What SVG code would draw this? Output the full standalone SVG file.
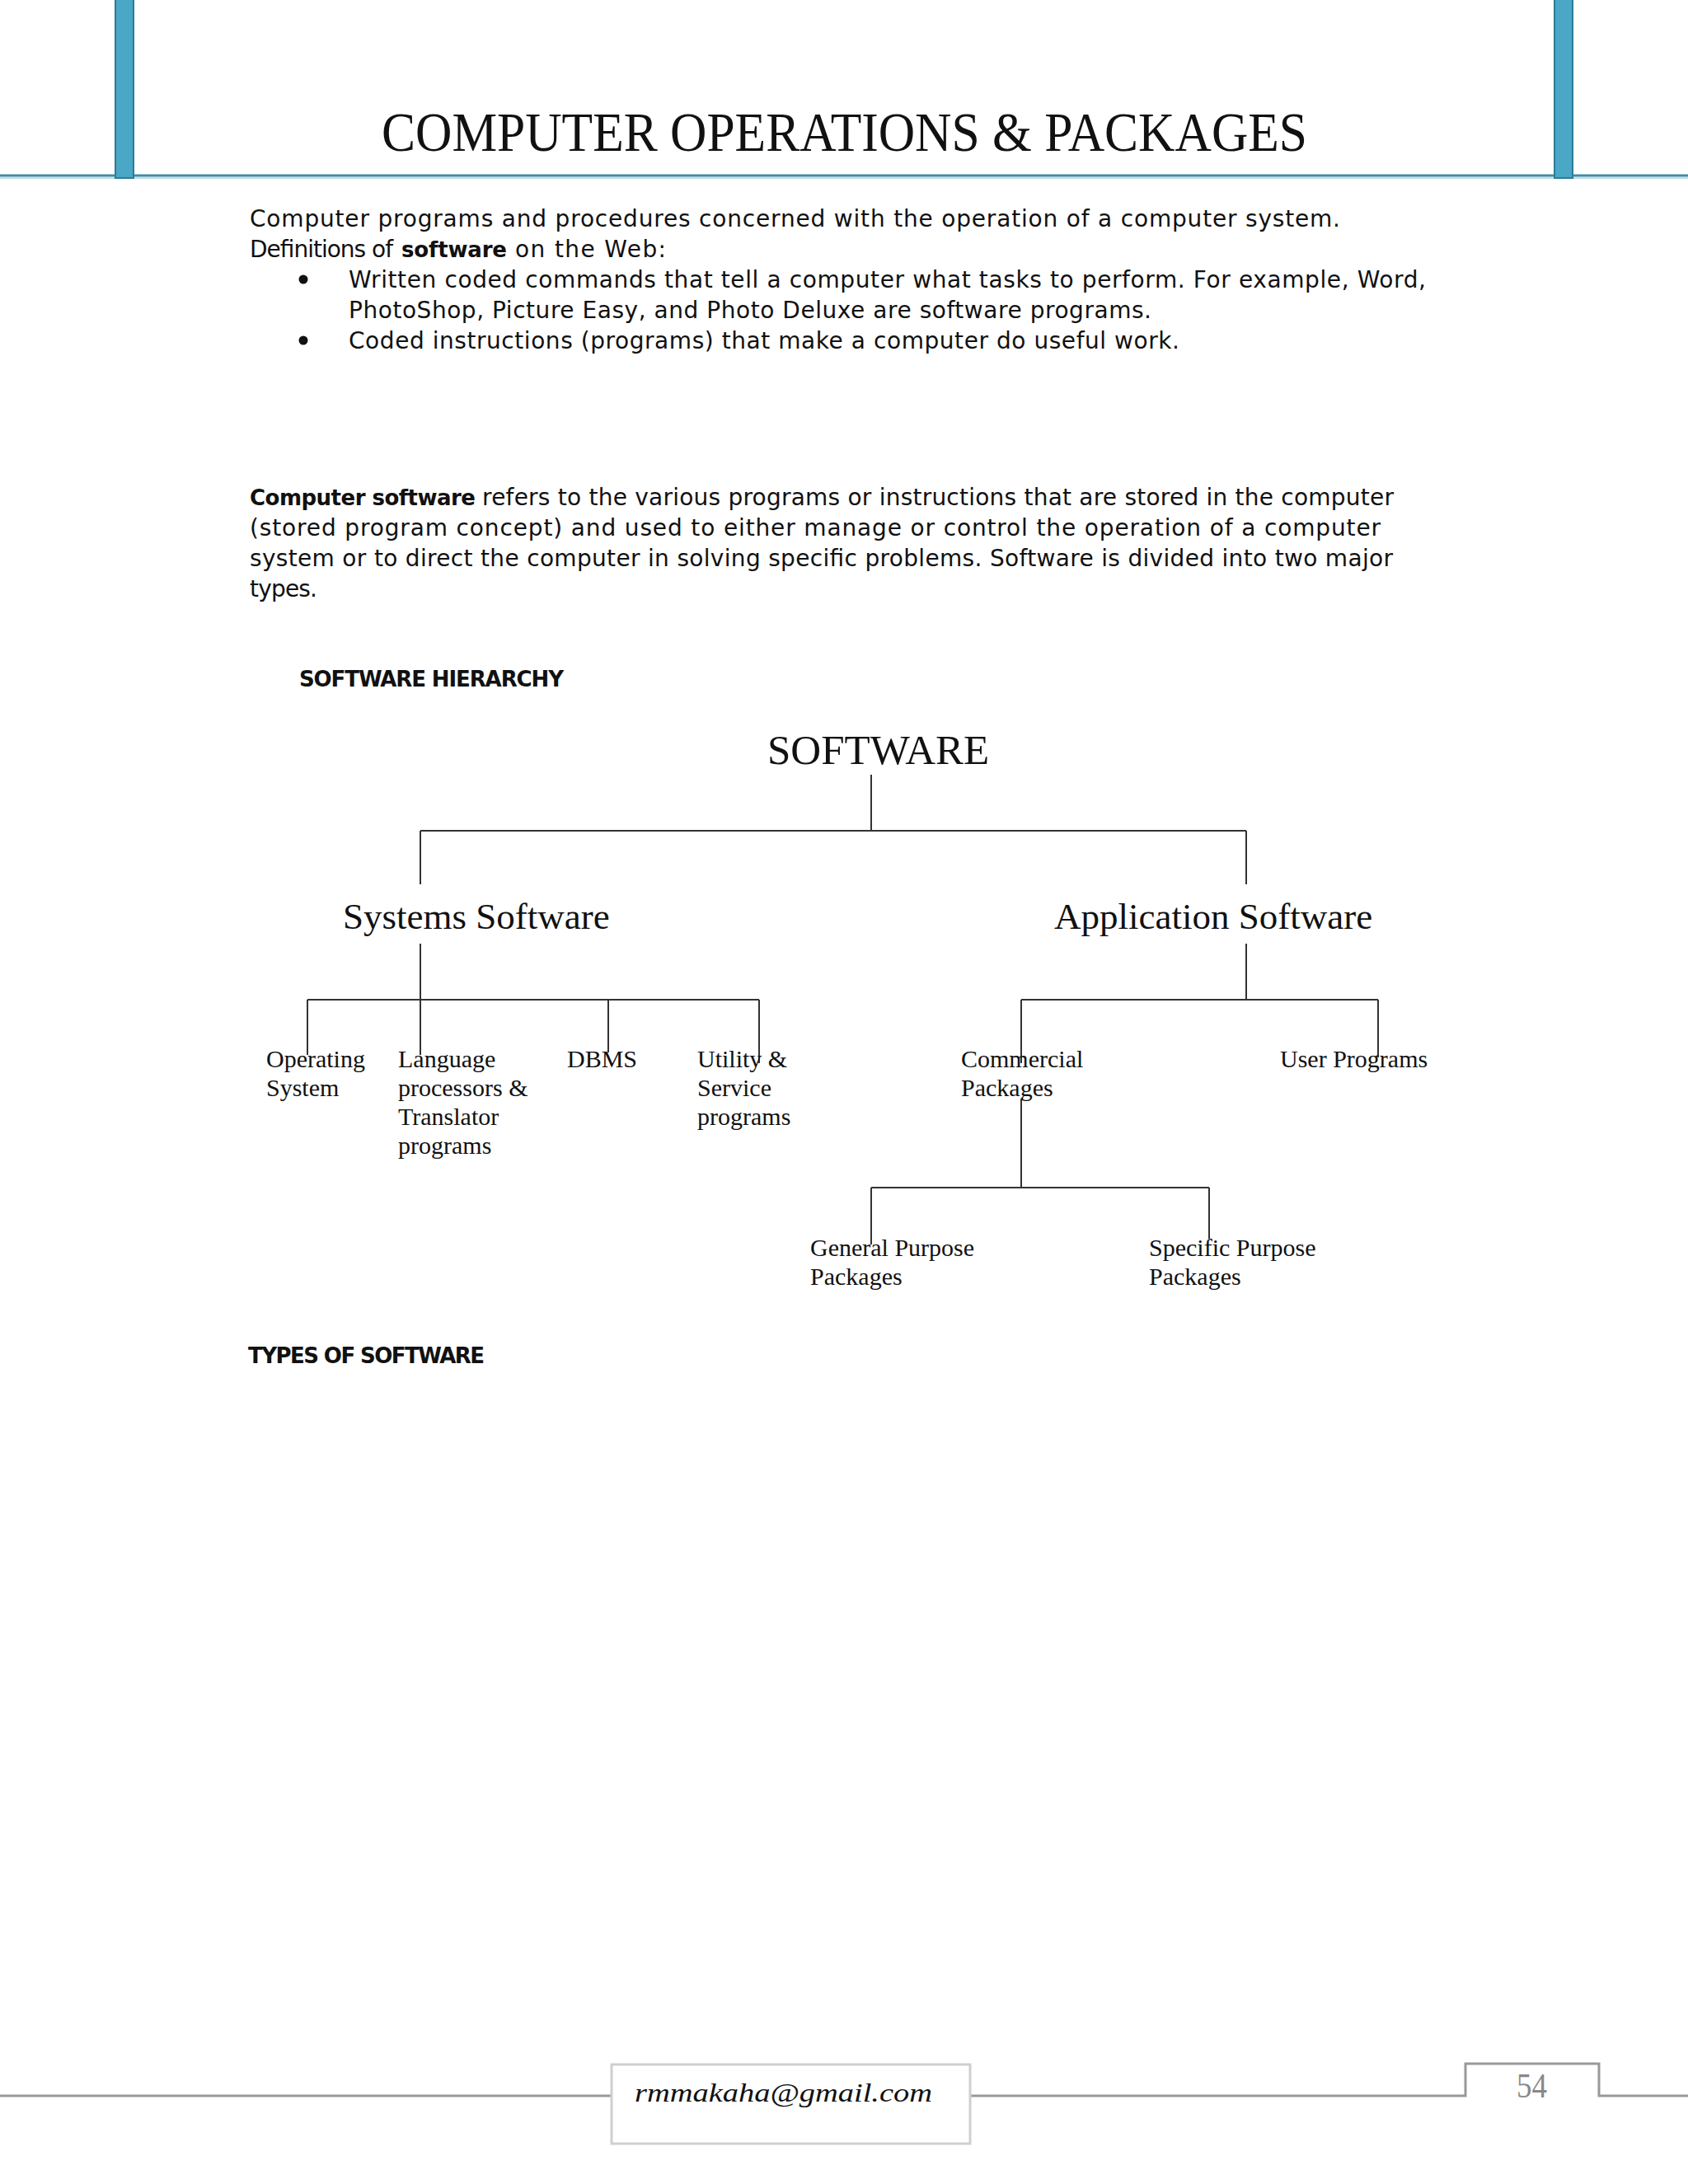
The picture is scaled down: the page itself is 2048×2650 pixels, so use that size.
<svg xmlns="http://www.w3.org/2000/svg" width="2048" height="2650" viewBox="0 0 2048 2650">
<style>
.body{font-family:"DejaVu Sans","Liberation Sans",sans-serif;font-size:28px;fill:#111}
.b{font-weight:bold;font-size:26px}
.node{font-family:"Liberation Serif","Times New Roman",serif;fill:#111}
.n1{font-size:51px}
.n2{font-size:45px}
.n3{font-size:30px}
.conn line{stroke:#333;stroke-width:2;fill:none}
.foot{stroke:#999;stroke-width:3;fill:none}
</style>
<rect x="0" y="0" width="2048" height="2650" fill="#ffffff"/>
<!-- header -->
<g id="header">
<line x1="0" y1="213" x2="2048" y2="213" stroke="#3f8ea8" stroke-width="3"/>
<line x1="0" y1="216" x2="2048" y2="216" stroke="#a9d6e5" stroke-width="1.5"/>
<rect x="140" y="-2" width="22" height="218" fill="#4aa7c6" stroke="#2e7b96" stroke-width="2"/>
<rect x="1886" y="-2" width="22" height="218" fill="#4aa7c6" stroke="#2e7b96" stroke-width="2"/>
<text x="463" y="183" font-family="Liberation Serif, serif" font-size="68" fill="#111" textLength="1123" lengthAdjust="spacingAndGlyphs">COMPUTER OPERATIONS &amp; PACKAGES</text>
</g>
<!-- body text -->
<g id="intro">
<text class="body" x="303" y="275" textLength="1323" lengthAdjust="spacing">Computer programs and procedures concerned with the operation of a computer system.</text>
<text class="body" x="303" y="312" textLength="174" lengthAdjust="spacing">Definitions of</text>
<text class="body b" x="487" y="312" textLength="128" lengthAdjust="spacing">software</text>
<text class="body" x="625" y="312" textLength="183" lengthAdjust="spacing">on the Web:</text>
<circle cx="368" cy="339" r="5.5" fill="#111"/>
<text class="body" x="423" y="349" textLength="1307" lengthAdjust="spacing">Written coded commands that tell a computer what tasks to perform. For example, Word,</text>
<text class="body" x="423" y="386" textLength="974" lengthAdjust="spacing">PhotoShop, Picture Easy, and Photo Deluxe are software programs.</text>
<circle cx="368" cy="413" r="5.5" fill="#111"/>
<text class="body" x="423" y="423" textLength="1008" lengthAdjust="spacing">Coded instructions (programs) that make a computer do useful work.</text>
</g>
<g id="paragraph">
<text class="body b" x="303" y="613" textLength="274" lengthAdjust="spacing">Computer software</text>
<text class="body" x="585" y="613" textLength="1106" lengthAdjust="spacing">refers to the various programs or instructions that are stored in the computer</text>
<text class="body" x="303" y="650" textLength="1372" lengthAdjust="spacing">(stored program concept) and used to either manage or control the operation of a computer</text>
<text class="body" x="303" y="687" textLength="1387" lengthAdjust="spacing">system or to direct the computer in solving specific problems. Software is divided into two major</text>
<text class="body" x="303" y="724" textLength="82" lengthAdjust="spacing">types.</text>
<text class="body b" x="363" y="833" textLength="321" lengthAdjust="spacing">SOFTWARE HIERARCHY</text>
<text class="body b" x="301" y="1654" textLength="287" lengthAdjust="spacing">TYPES OF SOFTWARE</text>
</g>
<!-- connectors -->
<g id="connectors" class="conn">
<line x1="1057" y1="940" x2="1057" y2="1008"/>
<line x1="510" y1="1008" x2="1512" y2="1008"/>
<line x1="510" y1="1008" x2="510" y2="1073"/>
<line x1="1512" y1="1008" x2="1512" y2="1073"/>
<line x1="510" y1="1145" x2="510" y2="1280"/>
<line x1="373" y1="1213" x2="921" y2="1213"/>
<line x1="373" y1="1213" x2="373" y2="1280"/>
<line x1="738" y1="1213" x2="738" y2="1277"/>
<line x1="921" y1="1213" x2="921" y2="1290"/>
<line x1="1512" y1="1145" x2="1512" y2="1213"/>
<line x1="1239" y1="1213" x2="1672" y2="1213"/>
<line x1="1672" y1="1213" x2="1672" y2="1283"/>
<line x1="1239" y1="1213" x2="1239" y2="1290"/>
<line x1="1239" y1="1333" x2="1239" y2="1441"/>
<line x1="1057" y1="1441" x2="1467" y2="1441"/>
<line x1="1057" y1="1441" x2="1057" y2="1510"/>
<line x1="1467" y1="1441" x2="1467" y2="1503"/>
</g>
<!-- nodes -->
<g id="n-software"><text class="node n1" x="931" y="927">SOFTWARE</text></g>
<g id="n-systems"><text class="node n2" x="416" y="1127">Systems Software</text></g>
<g id="n-application"><text class="node n2" x="1279" y="1127">Application Software</text></g>
<g id="n-os"><text class="node n3" x="323" y="1295">Operating</text><text class="node n3" x="323" y="1330">System</text></g>
<g id="n-lang"><text class="node n3" x="483" y="1295">Language</text><text class="node n3" x="483" y="1330">processors &amp;</text><text class="node n3" x="483" y="1365">Translator</text><text class="node n3" x="483" y="1400">programs</text></g>
<g id="n-dbms"><text class="node n3" x="688" y="1295">DBMS</text></g>
<g id="n-utility"><text class="node n3" x="846" y="1295">Utility &amp;</text><text class="node n3" x="846" y="1330">Service</text><text class="node n3" x="846" y="1365">programs</text></g>
<g id="n-commercial"><text class="node n3" x="1166" y="1295">Commercial</text><text class="node n3" x="1166" y="1330">Packages</text></g>
<g id="n-user"><text class="node n3" x="1553" y="1295">User Programs</text></g>
<g id="n-general"><text class="node n3" x="983" y="1524">General Purpose</text><text class="node n3" x="983" y="1559">Packages</text></g>
<g id="n-specific"><text class="node n3" x="1394" y="1524">Specific Purpose</text><text class="node n3" x="1394" y="1559">Packages</text></g>
<!-- footer -->
<g id="footer">
<polyline class="foot" points="0,2543 742,2543"/>
<polyline class="foot" points="1177,2543 1778,2543 1778,2504 1940,2504 1940,2543 2048,2543"/>
<rect x="742" y="2505" width="435" height="96" fill="#fff" stroke="#cfcfcf" stroke-width="3"/>
<text x="770" y="2550" font-family="Liberation Serif, serif" font-style="italic" font-size="32" fill="#111" textLength="361" lengthAdjust="spacingAndGlyphs">rmmakaha@gmail.com</text>
<text x="1840" y="2545" font-family="Liberation Serif, serif" font-size="42" fill="#888" textLength="37" lengthAdjust="spacingAndGlyphs">54</text>
</g>
</svg>
